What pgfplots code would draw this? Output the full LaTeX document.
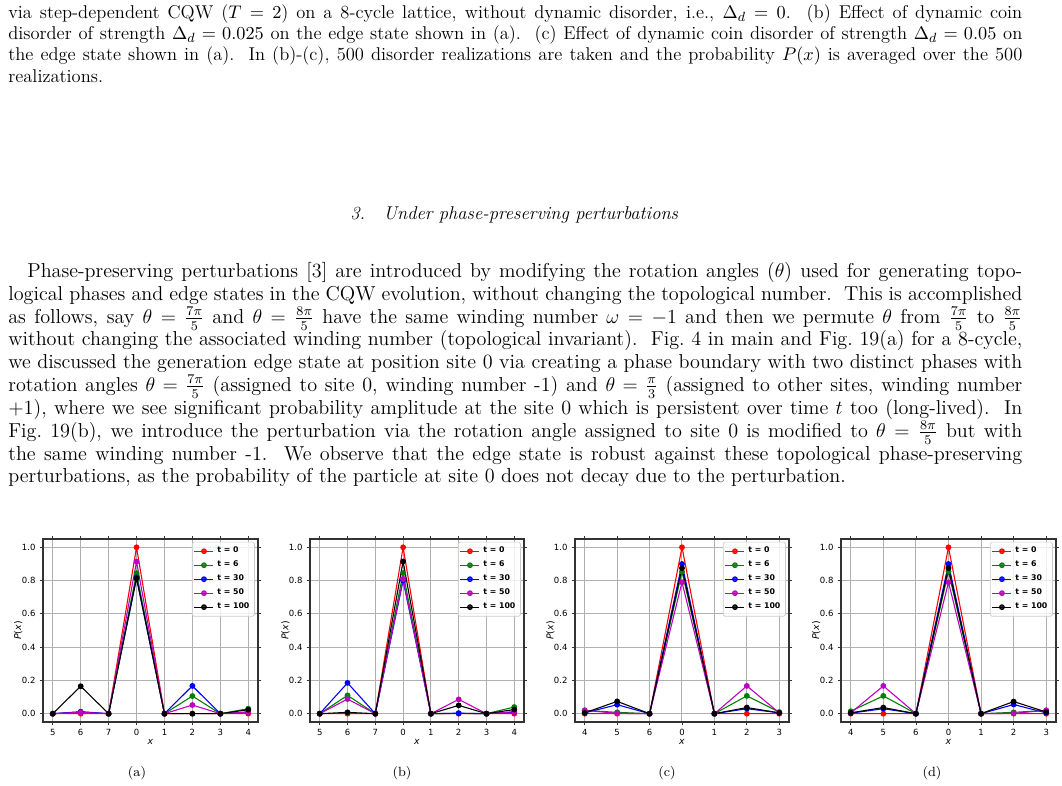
\documentclass[border=0pt]{standalone}
\usepackage{fontspec}
\usepackage{pgfplots}
\pgfplotsset{compat=1.18}
\newfontfamily\mplfont{DejaVu Sans}

\definecolor{mplgreen}{rgb}{0,0.5,0}
\definecolor{mplmag}{rgb}{0.75,0,0.75}
\definecolor{mplgrid}{HTML}{B0B0B0}

\pgfplotsset{
  panel/.style={
    scale only axis,
    anchor=south west,
    height=109.8pt,
    ymin=-0.05, ymax=1.05,
    ytick={0,0.2,0.4,0.6,0.8,1.0},
    yticklabels={0.0,0.2,0.4,0.6,0.8,1.0},
    xtick={0,...,7},
    grid=major,
    grid style={mplgrid, line width=0.6pt},
    axis line style={black!80, line width=0.8pt},
    tick align=outside,
    major tick length=2pt,
    tick style={black!80, line width=0.5pt},
    tick label style={font=\mplfont\fontsize{5.1}{5.5}\selectfont},
    /pgf/number format/assume math mode=true,
    xticklabel style={yshift=1pt},
    yticklabel style={xshift=1pt},
    xlabel={\itshape x},
    ylabel={{\itshape P}({\itshape x})},
    label style={font=\mplfont\fontsize{5.6}{6.5}\selectfont},
    xlabel style={at={(axis description cs:0.5,-0.11)}, anchor=center},
    ylabel style={at={(axis description cs:-0.115,0.5)}, anchor=center},
    every axis plot/.append style={line width=0.65pt, mark=*, mark size=1.4pt},
    legend style={
      at={(rel axis cs:0.985,0.985)}, anchor=north east,
      font=\mplfont\bfseries\fontsize{4.7}{5}\selectfont,
      draw=black!20, rounded corners=1pt, fill=white, fill opacity=0.8,
      text opacity=1, inner sep=1pt, row sep=-0.6pt,
      legend cell align=left,
    },
    legend image code/.code={
      \draw[mark repeat=2, mark phase=2] plot coordinates {(0cm,0cm) (0.2cm,0cm) (0.4cm,0cm)};
    },
  },
  eight/.style={xmin=-0.35, xmax=7.35, xticklabels={5,6,7,0,1,2,3,4}},
  seven/.style={xmin=-0.3, xmax=6.3, xtick={0,...,6}, xticklabels={4,5,6,0,1,2,3}},
}

\begin{document}
\begin{tikzpicture}[x=0.6pt, y=-0.6pt]
\path[use as bounding box] (0,0) rectangle (1062,785);

% tail of the previous figure caption
\node[anchor=north west, inner sep=0pt, text width=608.4pt, align=justify,
      font=\fontsize{11.1}{12.8}\selectfont] at (8,4) {%
via step-dependent CQW ($T=2$) on a 8-cycle lattice, without dynamic disorder, i.e., $\Delta_d=0$.\ \ (b) Effect of dynamic coin\linebreak
disorder of strength $\Delta_d=0.025$ on the edge state shown in (a).\ \ (c) Effect of dynamic coin disorder of strength $\Delta_d=0.05$ on\linebreak
the edge state shown in (a).\ \ In (b)-(c), 500 disorder realizations are taken and the probability $P(x)$ is averaged over the 500\linebreak
realizations.};

% section heading
\node[anchor=west, inner sep=0pt, font=\fontsize{11.1}{13}\selectfont\itshape] at (350,215) {3.\hspace{1em}Under phase-preserving perturbations};

% paragraph
\node[anchor=north west, inner sep=0pt, text width=608.4pt, align=justify,
      font=\fontsize{12.1}{13.7}\selectfont] at (8,262) {%
\hspace*{11.4pt}Phase-preserving perturbations [3] are introduced by modifying the rotation angles ($\theta$) used for generating topo-\linebreak
logical phases and edge states in the CQW evolution, without changing the topological number.\ \ This is accomplished\linebreak
as follows, say $\theta=\frac{7\pi}{5}$ and $\theta=\frac{8\pi}{5}$ have the same winding number $\omega=-1$ and then we permute $\theta$ from $\frac{7\pi}{5}$ to $\frac{8\pi}{5}$\linebreak
without changing the associated winding number (topological invariant).\ \ Fig.~4 in main and Fig.~19(a) for a 8-cycle,\linebreak
we discussed the generation edge state at position site 0 via creating a phase boundary with two distinct phases with\linebreak
rotation angles $\theta=\frac{7\pi}{5}$ (assigned to site 0, winding number -1) and $\theta=\frac{\pi}{3}$ (assigned to other sites, winding number\linebreak
+1), where we see significant probability amplitude at the site 0 which is persistent over time $t$ too (long-lived).\ \ In\linebreak
Fig.~19(b), we introduce the perturbation via the rotation angle assigned to site 0 is modified to $\theta=\frac{8\pi}{5}$ but with\linebreak
the same winding number -1.\ \ We observe that the edge state is robust against these topological phase-preserving\linebreak
perturbations, as the probability of the particle at site 0 does not decay due to the perturbation.};

% ---------------- panel (a)
\begin{axis}[panel, eight, at={(25.8pt,-433.2pt)}, width=129pt]
\addplot[red] coordinates {(0,0) (1,0) (2,0) (3,1.0) (4,0) (5,0) (6,0) (7,0)};
\addplot[mplgreen] coordinates {(0,0) (1,0.01) (2,0) (3,0.845) (4,0) (5,0.106) (6,0) (7,0.03)};
\addplot[blue] coordinates {(0,0) (1,0.012) (2,0) (3,0.82) (4,0) (5,0.167) (6,0) (7,0.01)};
\addplot[mplmag] coordinates {(0,0) (1,0.008) (2,0) (3,0.914) (4,0) (5,0.052) (6,0) (7,0.01)};
\addplot[black] coordinates {(0,0) (1,0.165) (2,0) (3,0.813) (4,0) (5,0) (6,0) (7,0.024)};
\legend{t = 0, t = 6, t = 30, t = 50, t = 100}
\end{axis}

% ---------------- panel (b)
\begin{axis}[panel, eight, at={(186pt,-433.2pt)}, width=128.4pt]
\addplot[red] coordinates {(0,0) (1,0) (2,0) (3,1.0) (4,0) (5,0) (6,0) (7,0)};
\addplot[mplgreen] coordinates {(0,0) (1,0.11) (2,0) (3,0.845) (4,0) (5,0.002) (6,0) (7,0.04)};
\addplot[blue] coordinates {(0,0) (1,0.185) (2,0) (3,0.80) (4,0) (5,0.003) (6,0) (7,0.01)};
\addplot[mplmag] coordinates {(0,0) (1,0.088) (2,0) (3,0.81) (4,0) (5,0.086) (6,0) (7,0.012)};
\addplot[black] coordinates {(0,0) (1,0.008) (2,0) (3,0.915) (4,0) (5,0.05) (6,0) (7,0.025)};
\legend{t = 0, t = 6, t = 30, t = 50, t = 100}
\end{axis}

% ---------------- panel (c)
\begin{axis}[panel, seven, at={(345pt,-433.2pt)}, width=128.4pt]
\addplot[red] coordinates {(0,0) (1,0) (2,0) (3,1.0) (4,0) (5,0) (6,0)};
\addplot[mplgreen] coordinates {(0,0.02) (1,0.008) (2,0) (3,0.853) (4,0) (5,0.107) (6,0.01)};
\addplot[blue] coordinates {(0,0.005) (1,0.054) (2,0) (3,0.90) (4,0) (5,0.03) (6,0.005)};
\addplot[mplmag] coordinates {(0,0.02) (1,0.002) (2,0) (3,0.79) (4,0) (5,0.167) (6,0.005)};
\addplot[black] coordinates {(0,0.005) (1,0.074) (2,0) (3,0.875) (4,0) (5,0.037) (6,0.005)};
\legend{t = 0, t = 6, t = 30, t = 50, t = 100}
\end{axis}

% ---------------- panel (d)
\begin{axis}[panel, seven, at={(504.6pt,-433.2pt)}, width=129pt]
\addplot[red] coordinates {(0,0) (1,0) (2,0) (3,1.0) (4,0) (5,0) (6,0)};
\addplot[mplgreen] coordinates {(0,0.015) (1,0.107) (2,0) (3,0.855) (4,0) (5,0.008) (6,0.02)};
\addplot[blue] coordinates {(0,0.003) (1,0.03) (2,0) (3,0.90) (4,0) (5,0.055) (6,0.005)};
\addplot[mplmag] coordinates {(0,0.005) (1,0.167) (2,0) (3,0.79) (4,0) (5,0.002) (6,0.02)};
\addplot[black] coordinates {(0,0.005) (1,0.037) (2,0) (3,0.875) (4,0) (5,0.073) (6,0.01)};
\legend{t = 0, t = 6, t = 30, t = 50, t = 100}
\end{axis}

% sub-figure labels
\foreach \lab/\xx in {a/137, b/402, c/667, d/932}
  \node[font=\fontsize{8}{9}\selectfont] at (\xx,773) {(\lab)};
\end{tikzpicture}
\end{document}
